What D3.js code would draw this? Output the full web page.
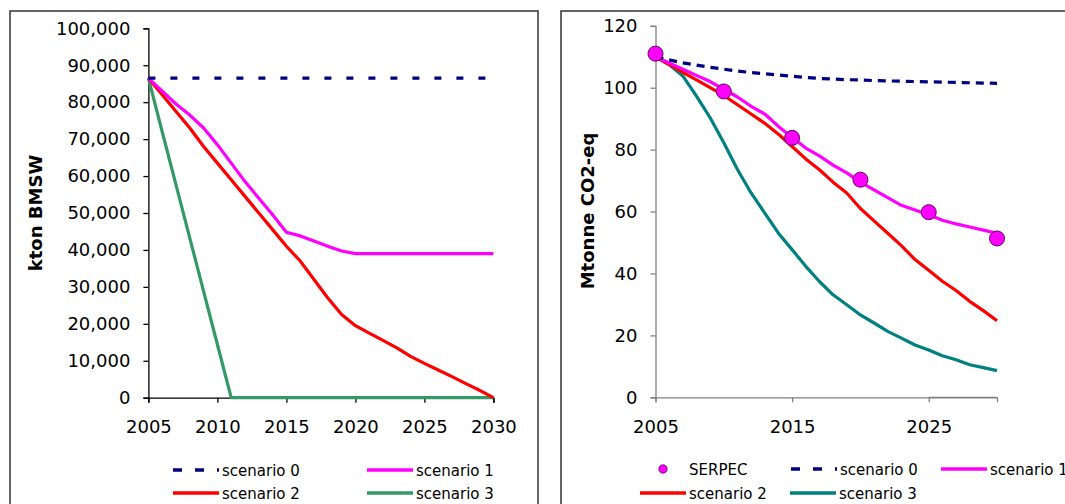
<!DOCTYPE html>
<html>
<head>
<meta charset="utf-8">
<script src="https://d3js.org/d3.v7.min.js"></script>
<style>
  body { margin: 0; background: #fff; }
  svg { display: block; }
  svg text { font-family: "DejaVu Sans", Verdana, sans-serif; }
</style>
</head>
<body>
<svg id="chart" width="1065" height="504"></svg>
<script>
// years on both charts
var years = [2005,2006,2007,2008,2009,2010,2011,2012,2013,2014,2015,2016,2017,2018,2019,
             2020,2021,2022,2023,2024,2025,2026,2027,2028,2029,2030];

// left chart: kton BMSW
var bmsw_s0 = [86500,86500,86500,86500,86500,86500,86500,86500,86500,86500,86500,86500,86500,
               86500,86500,86500,86500,86500,86500,86500,86500,86500,86500,86500,86500,86500];
var bmsw_s1 = [86500,83000,79500,76500,73000,68500,63500,58500,54000,49500,44800,43800,42400,
               41000,39700,39000,39000,39000,39000,39000,39000,39000,39000,39000,39000,39000];
var bmsw_s2 = [86500,82000,77500,73000,68000,63500,59000,54500,50000,45500,41000,37000,32000,
               27000,22500,19500,17500,15500,13500,11200,9300,7500,5700,3800,2000,0];
var bmsw_s3 = [86500,72000,57600,43200,28800,14400,0,0,0,0,0,0,0,
               0,0,0,0,0,0,0,0,0,0,0,0,0];
var bmswTicks = [0,10000,20000,30000,40000,50000,60000,70000,80000,90000,100000];
var bmswXTicks = [2005,2010,2015,2020,2025,2030];

// right chart: Mtonne CO2-eq
var co2_s0 = [110,109,108,107.3,106.6,106,105.4,104.9,104.5,104.1,103.7,103.3,103,102.8,102.6,
              102.5,102.3,102.2,102.1,102,101.9,101.8,101.7,101.6,101.5,101.4];
var co2_s1 = [110,108,106,104,102,99.5,97,94,91.5,87.5,84,80.5,78,75,72.5,
              69.5,67,64.5,62,60.5,59,57.2,56,55,54,53];
var co2_s2 = [110,107.5,105,102.5,100,97.5,94.5,91.5,88.5,85,81,77,73.5,69.5,66,
              61,57,53,49,44.5,41,37.5,34.5,31,28,24.7];
var co2_s3 = [110,107.5,103.8,97.3,90.3,82.2,73.6,66,59.5,53,47.7,42.3,37.4,33.1,29.9,
              26.6,24,21.3,19.1,16.9,15.3,13.4,12.1,10.5,9.6,8.6];
var serpecYears = [2005,2010,2015,2020,2025,2030];
var serpecValues = [111,98.8,83.8,70.3,59.8,51.3];
var co2Ticks = [0,20,40,60,80,100,120];
var co2XTicks = [2005,2015,2025];

var svg = d3.select('#chart');

// panel frames
svg.append('rect').attr('x', 10).attr('y', 11).attr('width', 528).attr('height', 520)
   .attr('fill', 'none').attr('stroke', '#333').attr('stroke-width', 1.5);
svg.append('rect').attr('x', 561).attr('y', 11).attr('width', 540).attr('height', 520)
   .attr('fill', 'none').attr('stroke', '#333').attr('stroke-width', 1.5);

function drawAxes(g, x, y, xt, yt, yfmt, axisColor) {
  var xa = g.append('g').attr('transform', 'translate(0,' + y.range()[0] + ')')
    .call(d3.axisBottom(x).tickValues(xt).tickFormat(d3.format('d')).tickSize(5).tickPadding(18));
  var ya = g.append('g').attr('transform', 'translate(' + x.range()[0] + ',0)')
    .call(d3.axisLeft(y).tickValues(yt).tickFormat(yfmt).tickSize(5).tickPadding(13));
  [xa, ya].forEach(function(a) {
    a.attr('font-family', null);
    a.select('.domain').attr('stroke', axisColor).attr('stroke-width', 1.3);
    a.selectAll('.tick line').attr('stroke', axisColor).attr('stroke-width', 1.3);
    a.selectAll('text').attr('fill', '#000').style('font-size', '18px');
  });
}

function drawLine(g, x, y, vals, color, dash) {
  var line = d3.line().x(function(d, i) { return x(years[i]); }).y(function(d) { return y(d); });
  var p = g.append('path').datum(vals).attr('fill', 'none').attr('stroke', color)
    .attr('stroke-width', 3.2).attr('stroke-linejoin', 'round').attr('d', line);
  if (dash) p.attr('stroke-dasharray', dash);
}

function legendLine(g, x, y, color, dash, label) {
  var l = g.append('line').attr('x1', x).attr('x2', x + 46).attr('y1', y).attr('y2', y)
    .attr('stroke', color).attr('stroke-width', 3.5);
  if (dash) l.attr('stroke-dasharray', dash);
  g.append('text').attr('x', x + 49).attr('y', y + 5.5).text(label)
    .style('font-size', '15px').attr('fill', '#000');
}

// ---------- left chart ----------
var gl = svg.append('g');
var xl = d3.scaleLinear().domain([2005, 2030]).range([148.4, 493.4]);
var yl = d3.scaleLinear().domain([0, 100000]).range([397.7, 28.3]);
drawAxes(gl, xl, yl, bmswXTicks, bmswTicks, d3.format(','), '#000');

drawLine(gl, xl, yl, bmsw_s3, '#339966');
drawLine(gl, xl, yl, bmsw_s2, '#ff0000');
drawLine(gl, xl, yl, bmsw_s1, '#ff00ff');
drawLine(gl, xl, yl, bmsw_s0, '#000080', '7,15');

gl.append('text').attr('transform', 'translate(42,213) rotate(-90)')
  .attr('text-anchor', 'middle').style('font-size', '18px').style('font-weight', 'bold')
  .text('kton BMSW');

legendLine(gl, 173, 470, '#000080', '9,13', 'scenario 0');
legendLine(gl, 367, 470, '#ff00ff', null, 'scenario 1');
legendLine(gl, 173, 493, '#ff0000', null, 'scenario 2');
legendLine(gl, 367, 493, '#339966', null, 'scenario 3');

// ---------- right chart ----------
var gr = svg.append('g');
var xr = d3.scaleLinear().domain([2005, 2030]).range([655.5, 997]);
var yr = d3.scaleLinear().domain([0, 120]).range([397.3, 25.8]);
drawAxes(gr, xr, yr, co2XTicks, co2Ticks, d3.format('d'), '#808080');
// axis line runs on to 2030
gr.append('line').attr('x1', xr(2025)).attr('x2', xr(2030)).attr('y1', yr(0)).attr('y2', yr(0))
  .attr('stroke', '#808080').attr('stroke-width', 1.3);

drawLine(gr, xr, yr, co2_s3, '#008080');
drawLine(gr, xr, yr, co2_s2, '#ff0000');
drawLine(gr, xr, yr, co2_s1, '#ff00ff');
drawLine(gr, xr, yr, co2_s0, '#000080', '8,6');

gr.selectAll('circle.serpec').data(serpecValues).enter().append('circle')
  .attr('class', 'serpec')
  .attr('cx', function(d, i) { return xr(serpecYears[i]); })
  .attr('cy', function(d) { return yr(d); })
  .attr('r', 7.5).attr('fill', '#ff00ff').attr('stroke', '#660066').attr('stroke-width', 1);

gr.append('text').attr('transform', 'translate(594,211) rotate(-90)')
  .attr('text-anchor', 'middle').style('font-size', '18px').style('font-weight', 'bold')
  .text('Mtonne CO2-eq');

gr.append('circle').attr('cx', 663).attr('cy', 469).attr('r', 4.2)
  .attr('fill', '#ff00ff').attr('stroke', '#660066').attr('stroke-width', 0.8);
gr.append('text').attr('x', 689).attr('y', 474.5).text('SERPEC')
  .style('font-size', '15px').attr('fill', '#000');
legendLine(gr, 791, 469, '#000080', '9,13', 'scenario 0');
legendLine(gr, 941, 469, '#ff00ff', null, 'scenario 1');
legendLine(gr, 640, 493, '#ff0000', null, 'scenario 2');
legendLine(gr, 790, 493, '#008080', null, 'scenario 3');
</script>
</body>
</html>
